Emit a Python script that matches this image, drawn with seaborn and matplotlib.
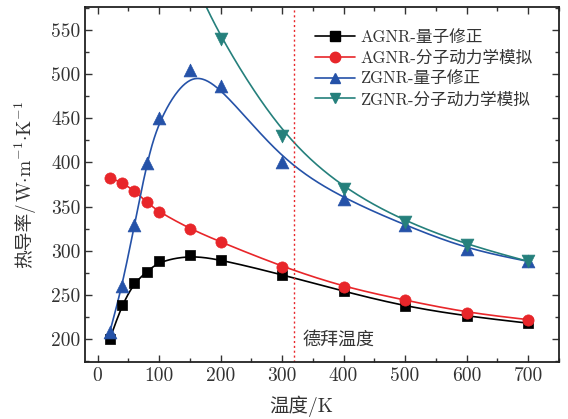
import numpy as np
import pandas as pd
import matplotlib
matplotlib.use("Agg")
import matplotlib.pyplot as plt
from matplotlib.lines import Line2D
import seaborn as sns

# data
temps = [20, 40, 60, 80, 100, 150, 200, 300, 400, 500, 600, 700]
agnr_qc = [200, 239, 264, 276, 288, 295, 290, 273, 254, 237, 226, 218]
agnr_md = [383, 377, 368, 355, 344, 325, 310, 282, 259, 244, 230, 222]
zgnr_qc = [208, 260, 329, 399, 450, 505, 487, 401, 359, 329, 302, 288]
# low-temperature ZGNR MD values lie above the plotted range
zgnr_md_temps = [100, 150, 200, 300, 400, 500, 600, 700]
zgnr_md = [720, 615, 540, 430, 370, 333, 307, 288]

labels = ["AGNR-量子修正", "AGNR-分子动力学模拟", "ZGNR-量子修正", "ZGNR-分子动力学模拟"]
colors = ["#000000", "#e8262a", "#2552a8", "#25807c"]
markers = ["s", "o", "^", "v"]
sizes = [50, 65, 85, 85]
debye_T = 320


def bspline(x, y, n=40):
    # clamped uniform cubic B-spline using the points as control points
    p = np.column_stack([x, y]).astype(float)
    p = np.vstack([p[0], p[0], p, p[-1], p[-1]])
    t = np.linspace(0, 1, n)[:, None]
    out = []
    for i in range(len(p) - 3):
        p0, p1, p2, p3 = p[i:i + 4]
        seg = ((1 - t) ** 3 * p0 + (3 * t**3 - 6 * t**2 + 4) * p1
               + (-3 * t**3 + 3 * t**2 + 3 * t + 1) * p2 + t**3 * p3) / 6
        out.append(seg)
    out = np.vstack(out)
    return out[:, 0], out[:, 1]


sns.set_style("ticks")
plt.rcParams["font.family"] = ["cmr10", "Noto Sans CJK SC"]
plt.rcParams["mathtext.fontset"] = "cm"
plt.rcParams["axes.unicode_minus"] = False
txt = "#333333"

fig = plt.figure(figsize=(5.68, 4.19), dpi=100)
ax = fig.add_axes([0.150, 0.136, 0.834, 0.847])

series = [(temps, agnr_qc), (temps, agnr_md), (temps, zgnr_qc), (zgnr_md_temps, zgnr_md)]
for (xs, ys), c, m, s in zip(series, colors, markers, sizes):
    cx, cy = bspline(xs, ys)
    sns.lineplot(x=cx, y=cy, sort=False, estimator=None, color=c, lw=1.2, ax=ax)
    df = pd.DataFrame({"T": xs, "k": ys})
    sns.scatterplot(data=df, x="T", y="k", marker=m, color=c, s=s,
                    edgecolor=c, linewidth=0.5, ax=ax, zorder=3)

ax.axvline(debye_T, color="#e8262a", ls=(0, (1.5, 2)), lw=1.0)
ax.text(debye_T + 14, 200, "德拜温度", fontsize=13, va="center", ha="left", color=txt)

ax.set_xlim(-20, 748)
ax.set_ylim(174, 576)
ax.set_xticks(range(0, 701, 100))
ax.set_xticks(range(0, 751, 50), minor=True)
ax.set_yticks(range(200, 551, 50))
ax.set_yticks(range(175, 576, 25), minor=True)
ax.tick_params(which="both", direction="in", top=True, right=True, labelsize=14,
               colors=txt)
ax.tick_params(which="major", length=5, width=1)
ax.tick_params(which="minor", length=3, width=1)
for sp in ax.spines.values():
    sp.set_linewidth(1.3)
    sp.set_color("#222222")

ax.set_xlabel("温度/K", fontsize=14, color=txt)
ax.xaxis.set_label_coords(0.456, -0.095)
ax.set_ylabel("")

# y label in two pieces: CJK part in the text font, units in mathtext
t1 = fig.text(0.044, 1 - 268 / 419, "热导率/", rotation=90, ha="center", va="bottom",
              fontsize=13.5, color=txt)
fig.canvas.draw()
bb = t1.get_window_extent().transformed(fig.transFigure.inverted())
fig.text(0.044, bb.y1, r"$\mathrm{W{\cdot}m^{-1}{\cdot}K^{-1}}$", rotation=90,
         ha="center", va="bottom", fontsize=14, color=txt)

handles = [Line2D([0], [0], color=c, marker=m, lw=1.2, ms=7.5 if m != "s" else 6.5)
           for c, m in zip(colors, markers)]
ax.legend(handles, labels, loc="upper left", bbox_to_anchor=(0.465, 0.965), frameon=False,
          fontsize=12, handlelength=2.4, handletextpad=0.3, labelspacing=0.33,
          labelcolor=txt, borderaxespad=0.2)

fig.savefig("out.png", dpi=100)
